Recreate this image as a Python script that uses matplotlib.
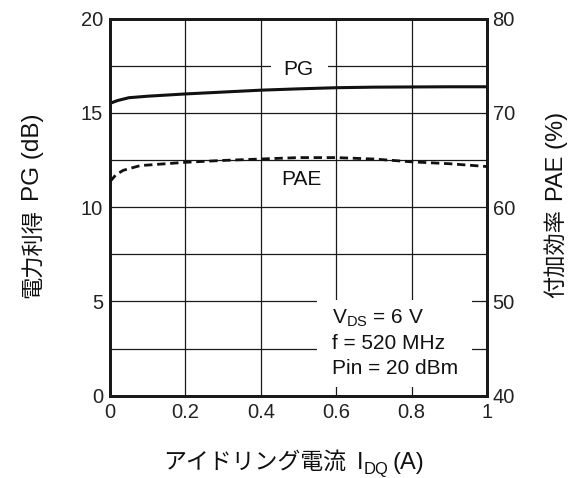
import matplotlib
matplotlib.use("Agg")
import matplotlib.pyplot as plt
from matplotlib.ticker import MultipleLocator

LAT = 'Liberation Sans'
CJK = 'Noto Sans CJK JP'
plt.rcParams['font.family'] = [LAT, CJK]
plt.rcParams['mathtext.fontset'] = 'custom'
plt.rcParams['mathtext.rm'] = LAT

# Data
idq = [0.0, 0.02, 0.05, 0.1, 0.2, 0.3, 0.4, 0.5, 0.6, 0.7, 0.8, 0.9, 1.0]
pg = [15.5, 15.65, 15.8, 15.88, 16.0, 16.1, 16.2, 16.27, 16.33, 16.36, 16.37, 16.38, 16.38]
pae_x = [0.0, 0.015, 0.035, 0.08, 0.2, 0.3, 0.4, 0.5, 0.6, 0.7, 0.8, 0.9, 1.0]
pae = [62.7, 63.4, 63.9, 64.4, 64.75, 64.95, 65.1, 65.25, 65.25, 65.1, 64.8, 64.6, 64.3]
x_ticks = [0, 0.2, 0.4, 0.6, 0.8, 1.0]
x_ticklabels = ['0', '0.2', '0.4', '0.6', '0.8', '1']

W, H = 575, 478
fig = plt.figure(figsize=(W / 100, H / 100), dpi=100)
ax = fig.add_axes([110 / W, 1 - 395.7 / H, 377 / W, 377.2 / H])
ax.set_xlim(0, 1)
ax.set_ylim(0, 20)
ax.set_xticks(x_ticks)
ax.set_xticklabels(x_ticklabels)
ax.yaxis.set_major_locator(MultipleLocator(5))
ax.yaxis.set_minor_locator(MultipleLocator(2.5))
ax.grid(True, which='major', color='#1a1a1a', linewidth=0.9)
ax.grid(True, which='minor', axis='y', color='#1a1a1a', linewidth=0.9)
ax.set_axisbelow(True)
ax.tick_params(which='both', length=0, labelsize=14.5, colors='#222222')
ax.tick_params(axis='y', pad=5)
ax.tick_params(axis='x', pad=5)
for s in ax.spines.values():
    s.set_linewidth(2.1)
    s.set_color('#1a1a1a')

ax.plot(idq, pg, color='#111111', linewidth=2.2, zorder=3)

ax2 = ax.twinx()
ax2.set_ylim(40, 80)
ax2.yaxis.set_major_locator(MultipleLocator(10))
ax2.tick_params(length=0, labelsize=14.5, pad=4, colors='#222222')
for s in ax2.spines.values():
    s.set_linewidth(2.1)
    s.set_color('#1a1a1a')
ax2.plot(pae_x, pae, color='#111111', linewidth=2.0, linestyle=(0, (3.0, 1.7)), zorder=3)

# label backgrounds
ax.fill_between([0.426, 0.578], [16.95, 16.95], [17.9, 17.9], color='white', zorder=2, linewidth=0)
ax.text(0.5, 17.3, 'PG', fontsize=15, ha='center', va='center', zorder=4, color='#111111')
ax.text(0.509, 11.44, 'PAE', fontsize=15, ha='center', va='center', zorder=4, color='#111111')

# condition box
ax.fill_between([0.55, 0.96], [0.45, 0.45], [5.05, 5.05], color='white', zorder=2, linewidth=0)
ax.text(0.59, 4.1, r'V$_{\mathregular{DS}}$ = 6 V', fontsize=15, ha='left', va='center', zorder=4, color='#111111')
ax.text(0.59, 2.75, 'f = 520 MHz', fontsize=15, ha='left', va='center', zorder=4, color='#111111')
ax.text(0.59, 1.42, 'Pin = 20 dBm', fontsize=15, ha='left', va='center', zorder=4, color='#111111')


def place(pieces, center_px, base_px, rot):
    """pieces: (text, size, family, gap_before_px, shift_px). Coordinates in display px (y up)."""
    arts = []
    for s, size, fam, gap, shift in pieces:
        t = fig.text(0, 0, s, fontsize=size, family=fam, rotation=rot, rotation_mode='anchor',
                     ha='left', va='baseline', color='#111111')
        arts.append(t)
    fig.canvas.draw()
    r = fig.canvas.get_renderer()
    lens = []
    for t in arts:
        bb = t.get_window_extent(r)
        lens.append(bb.width if rot == 0 else bb.height)
    total = sum(lens) + sum(p[3] for p in pieces)
    pos = center_px - total / 2
    for t, (s, size, fam, gap, shift), L in zip(arts, pieces, lens):
        pos += gap
        if rot == 0:
            t.set_position((pos / W, (base_px + shift) / H))
        else:
            t.set_position(((base_px - shift) / W, pos / H))
        pos += L


# x label
place([('アイドリング電流', 16.5, [CJK], 0, 0),
       ('I', 17, [LAT], 10, 0),
       ('DQ', 12, [LAT], 1, -5),
       ('(A)', 17, [LAT], 4, 0)],
      center_px=294, base_px=H - 469, rot=0)

# left y label
place([('電力利得', 16, [CJK], 0, 0),
       ('PG (dB)', 17.5, [LAT], 8, 0)],
      center_px=H - 206, base_px=39.5, rot=90)

# right y label
place([('付加効率', 16, [CJK], 0, 0),
       ('PAE (%)', 17, [LAT], 8, 0)],
      center_px=H - 205, base_px=563, rot=90)

fig.savefig('out.png', dpi=100, facecolor='white')
